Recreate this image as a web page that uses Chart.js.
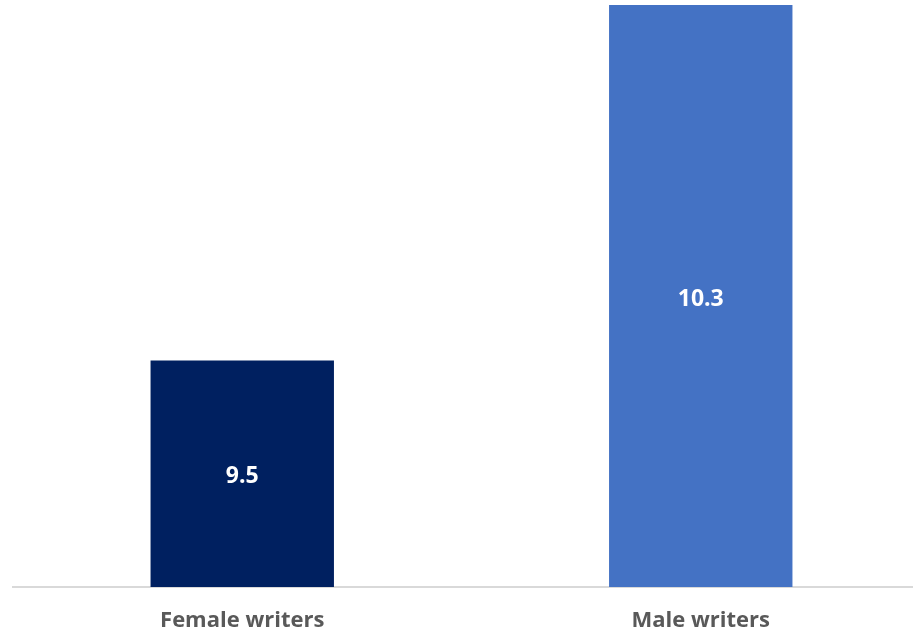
<!DOCTYPE html>
<html>
<head>
<meta charset="utf-8">
<script src="https://cdn.jsdelivr.net/npm/chart.js@4/dist/chart.umd.min.js"></script>
<style>
  html, body { margin: 0; padding: 0; background: #fff; overflow: hidden; }
  #wrap { width: 930px; height: 633px; }
</style>
</head>
<body>
<div id="wrap"><canvas id="canvasWriters"></canvas></div>
<script>
let categories = ['Female writers', 'Male writers'];
let values = [9.5, 10.3];
let colors = ['#002060', '#4472C4'];

// writes each bar's value in the middle of its visible part
const barValues = {
    id: 'barValues',
    afterDatasetsDraw(chart) {
        let ctx = chart.ctx;
        let bottom = chart.chartArea.bottom;
        ctx.save();
        ctx.font = 'bold 23px "Open Sans", sans-serif';
        ctx.fillStyle = '#ffffff';
        ctx.textAlign = 'center';
        ctx.textBaseline = 'middle';
        chart.getDatasetMeta(0).data.forEach((bar, i) => {
            let mid = (bar.y + bottom) / 2;
            ctx.fillText(values[i].toFixed(1), bar.x, mid + 3);
        });
        ctx.restore();
    }
};

let canvas = document.querySelector('#canvasWriters');
let chartWriters = new Chart(canvas, {
    type: 'bar',
    data: {
        labels: categories,
        datasets: [{
            data: values,
            backgroundColor: colors,
            barPercentage: 0.8,
            categoryPercentage: 0.5,
        }]
    },
    options: {
        responsive: true,
        maintainAspectRatio: false,
        animation: false,
        layout: { padding: { left: 13, top: 5, right: 0, bottom: 0 } },
        plugins: {
            legend: { display: false },
            tooltip: { enabled: false }
        },
        scales: {
            x: {
                grid: { display: false },
                border: { display: true, color: '#d9d9d9', width: 2 },
                ticks: {
                    color: '#595959',
                    padding: 13,
                    maxRotation: 0,
                    font: { family: '"Open Sans", sans-serif', size: 22, weight: 'bold' }
                },
                afterFit: scale => { scale.height = 46; }
            },
            y: {
                display: false,
                min: 8.99,
                max: 10.3
            }
        }
    },
    plugins: [barValues]
});
</script>
</body>
</html>
